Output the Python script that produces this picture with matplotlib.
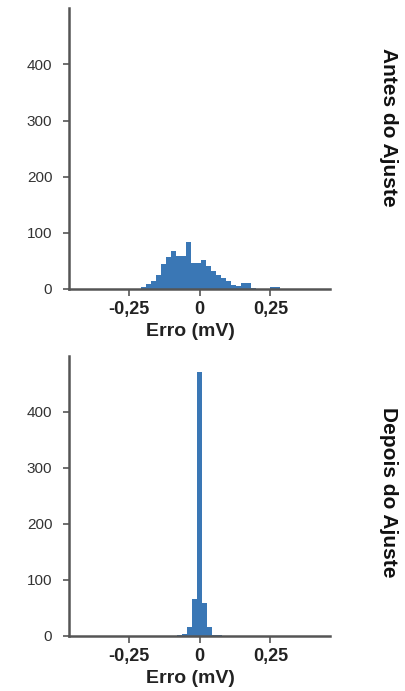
import numpy as np
import matplotlib
matplotlib.use("Agg")
import matplotlib.pyplot as plt

plt.rcParams['font.family'] = ['Liberation Sans', 'DejaVu Sans']

# Histogram data: bin left edges (mV) and counts
bin_width = 0.0175
antes_left = [-0.205, -0.1875, -0.17, -0.1525, -0.135, -0.1175, -0.1, -0.0825,
              -0.065, -0.0475, -0.03, -0.0125, 0.005, 0.0225, 0.04, 0.0575,
              0.075, 0.0925, 0.11, 0.1275, 0.145, 0.1625, 0.18, 0.1975,
              0.215, 0.2325, 0.25, 0.2675]
antes_counts = [4, 8, 14, 24, 44, 56, 67, 59,
                59, 83, 46, 46, 52, 40, 32, 25,
                20, 14, 7, 5, 10, 10, 2, 0,
                0, 0, 3, 3]

depois_left = [-0.07875, -0.06125, -0.04375, -0.02625, -0.00875, 0.00875,
               0.02625, 0.04375, 0.06125]
depois_counts = [1, 3, 16, 65, 472, 58, 16, 2, 1]

xtick_vals = [-0.25, 0, 0.25]
xtick_labels = ['-0,25', '0', '0,25']
ytick_vals = [0, 100, 200, 300, 400]

bar_color = '#3a77b5'
spine_color = '#555555'

fig = plt.figure(figsize=(4.06, 6.91), dpi=100)
ax1 = fig.add_axes([0.170, 0.582, 0.643, 0.406])
ax2 = fig.add_axes([0.170, 0.080, 0.643, 0.405])


def style(ax, left, counts, side_label, y_center):
    edges = list(left) + [left[-1] + bin_width]
    centers = np.array(left) + bin_width / 2
    ax.hist(centers, bins=edges, weights=counts, color=bar_color,
            edgecolor='none')
    ax.set_xlim(-0.46, 0.46)
    ax.set_ylim(0, 500)
    for s in ['top', 'right']:
        ax.spines[s].set_visible(False)
    for s in ['left', 'bottom']:
        ax.spines[s].set_color(spine_color)
        ax.spines[s].set_linewidth(1.8)
    ax.set_yticks(ytick_vals)
    ax.set_xticks(xtick_vals)
    ax.set_xticklabels(xtick_labels, fontweight='bold', fontsize=13)
    ax.tick_params(axis='y', length=4, width=1.2, color=spine_color,
                   labelsize=11, labelcolor='#333333', pad=8)
    ax.tick_params(axis='x', length=5, width=1.2, color=spine_color,
                   labelcolor='#222222', pad=4)
    ax.set_xlabel('Erro (mV)', fontweight='bold', fontsize=14,
                  color='#222222')
    ax.xaxis.set_label_coords(0.465, -0.122)
    fig.text(0.958, y_center, side_label, rotation=-90, fontweight='bold',
             fontsize=15, ha='center', va='center', color='#111111')


style(ax1, antes_left, antes_counts, 'Antes do Ajuste', 0.816)
style(ax2, depois_left, depois_counts, 'Depois do Ajuste', 0.288)

fig.savefig('out.png', dpi=100, facecolor='white')
